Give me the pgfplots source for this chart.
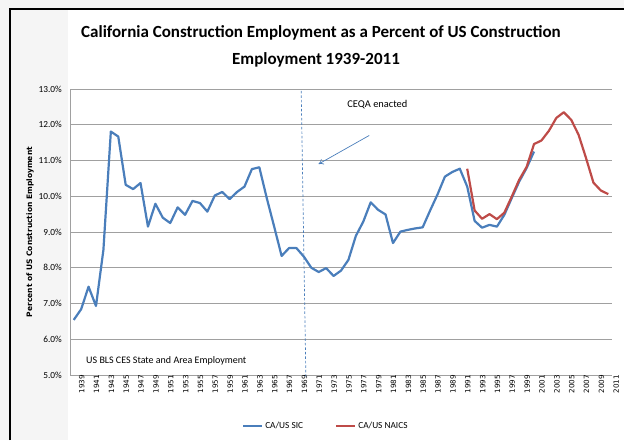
\documentclass[border=0pt]{standalone}
\usepackage{fontspec}
\setmainfont{Carlito}
\newfontfamily\dejavu{DejaVu Sans}
\usepackage{pgfplots}
\pgfplotsset{compat=1.18}
\usetikzlibrary{arrows.meta}
\definecolor{xlblue}{HTML}{4A7EBB}
\definecolor{xlred}{HTML}{BE4B48}
\definecolor{gridgray}{HTML}{A0A0A0}
\begin{document}
\begin{tikzpicture}[x=1pt,y=1pt]
\path[use as bounding box] (0,0) rectangle (624,440);
\fill[black!4] (0,0) rectangle (68,440);
\fill[black!4] (0,431) rectangle (624,440);
\begin{axis}[
  at={(70pt,65pt)}, anchor=south west,
  scale only axis, width=542pt, height=286pt,
  xmin=1938.5, xmax=2011.5, ymin=5, ymax=13,
  xtick={1939,1941,...,2011},
  ytick={5,6,...,13},
  major tick length=0pt,
  axis lines*=left,
  axis line style={gridgray, line width=0.9pt},
  ymajorgrids, grid style={gridgray, line width=0.9pt},
  /pgf/number format/assume math mode=true,
  /pgf/number format/1000 sep={},
  xticklabel style={rotate=90, anchor=east, font=\dejavu\fontsize{7.2}{8}\selectfont, inner sep=0pt, yshift=-8pt},
  yticklabel={\pgfmathprintnumber[fixed,fixed zerofill,precision=1]{\tick}\%},
  yticklabel style={font=\fontsize{9.3}{10}\selectfont, inner sep=0pt, xshift=-8pt},
  clip=false,
  legend columns=2,
  legend style={draw=none, fill=none, at={(0.472,-0.178)}, anchor=center,
    font=\fontsize{9.3}{10}\selectfont,
    /tikz/every even column/.append style={column sep=30pt}},
  legend image code/.code={\draw[#1] (0pt,0pt) -- (19pt,0pt);},
]
\addplot[xlblue, line width=2.2pt, line join=round] coordinates {
(1939,6.54) (1940,6.84) (1941,7.47) (1942,6.93) (1943,8.50) (1944,11.81)
(1945,11.67) (1946,10.32) (1947,10.20) (1948,10.37) (1949,9.15) (1950,9.79)
(1951,9.40) (1952,9.25) (1953,9.69) (1954,9.48) (1955,9.87) (1956,9.81)
(1957,9.57) (1958,10.02) (1959,10.12) (1960,9.92) (1961,10.12) (1962,10.27)
(1963,10.76) (1964,10.81) (1965,9.95) (1966,9.15) (1967,8.33) (1968,8.55)
(1969,8.55) (1970,8.31) (1971,8.00) (1972,7.88) (1973,7.99) (1974,7.77)
(1975,7.92) (1976,8.22) (1977,8.89) (1978,9.29) (1979,9.83) (1980,9.62)
(1981,9.49) (1982,8.69) (1983,9.01) (1984,9.06) (1985,9.10) (1986,9.13)
(1987,9.60) (1988,10.05) (1989,10.55) (1990,10.68) (1991,10.77) (1992,10.27)
(1993,9.31) (1994,9.12) (1995,9.20) (1996,9.15) (1997,9.48) (1998,9.95)
(1999,10.41) (2000,10.79) (2001,11.25)
};
\addlegendentry{CA/US SIC}
\addplot[xlred, line width=2.2pt, line join=round] coordinates {
(1992,10.77) (1993,9.60) (1994,9.37) (1995,9.50) (1996,9.36) (1997,9.54)
(1998,9.99) (1999,10.46) (2000,10.82) (2001,11.46) (2002,11.56) (2003,11.83)
(2004,12.19) (2005,12.35) (2006,12.14) (2007,11.72) (2008,11.07) (2009,10.38)
(2010,10.16) (2011,10.06)
};
\addlegendentry{CA/US NAICS}
\draw[xlblue, line width=0.7pt, dash pattern=on 2.5pt off 2pt] (axis cs:1969.64,12.95) -- (axis cs:1970.27,4.94);
\draw[xlblue, line width=0.7pt, -{To[length=5pt,width=6pt]}] (axis cs:1978.8,11.70) -- (axis cs:1971.97,10.90);
\node[font=\fontsize{10.4}{12}\selectfont] at (axis cs:1979.9,12.56) {CEQA enacted};
\node[font=\fontsize{10}{12}\selectfont, anchor=west, inner sep=0pt] at (axis cs:1940.66,5.39) {US BLS CES State and Area Employment};
\end{axis}
\node[font=\bfseries\fontsize{17}{20}\selectfont] at (321,407) {California Construction Employment as a Percent of US Construction};
\node[font=\bfseries\fontsize{17}{20}\selectfont] at (316,380) {Employment 1939-2011};
\node[rotate=90, font=\dejavu\bfseries\fontsize{7.5}{9}\selectfont] at (30,208) {Percent of US Construction Employment};
\draw[black, line width=2pt] (10,0) -- (10,431) -- (625,431);
\end{tikzpicture}
\end{document}
